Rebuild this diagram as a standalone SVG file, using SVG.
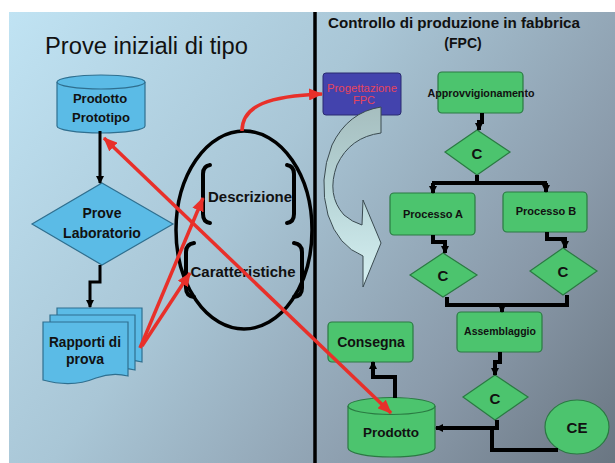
<svg xmlns="http://www.w3.org/2000/svg" width="615" height="463" viewBox="0 0 615 463">
<style>
.bold{font-family:"Liberation Sans",Arial,sans-serif;font-weight:bold;fill:#111;text-anchor:middle}
.blue{fill:#5bbbe6;stroke:#2f6f8f;stroke-width:1.2}
.green{fill:#4cc46e;stroke:#2a7a42;stroke-width:1.2}
.blk{fill:none;stroke:#000;stroke-width:4;stroke-linejoin:miter}
.blk3{fill:none;stroke:#000;stroke-width:3}
.red{fill:none;stroke:#e8302a;stroke-width:3.5}
.brk{fill:none;stroke:#000;stroke-width:4;stroke-linecap:round}
</style>
<defs>
<linearGradient id="bg" x1="9" y1="12" x2="615" y2="462" gradientUnits="userSpaceOnUse">
<stop offset="0" stop-color="#c0e3f3"/>
<stop offset="0.4" stop-color="#a9c6d6"/>
<stop offset="0.75" stop-color="#8a9aaa"/>
<stop offset="1" stop-color="#6a7682"/>
</linearGradient>
<linearGradient id="carr" x1="0" y1="0" x2="0" y2="1">
<stop offset="0" stop-color="#a6bebf"/>
<stop offset="0.5" stop-color="#b8d6d8"/>
<stop offset="1" stop-color="#d6f0f2"/>
</linearGradient>
<marker id="ab" markerWidth="8" markerHeight="8" refX="7" refY="4" orient="auto" markerUnits="userSpaceOnUse">
<path d="M0,0 L8,4 L0,8 Z" fill="#000"/>
</marker>
<marker id="ar" markerWidth="14" markerHeight="12" refX="13" refY="6" orient="auto" markerUnits="userSpaceOnUse">
<path d="M0,0 L14,6 L0,12 Z" fill="#e8302a"/>
</marker>
<marker id="ars" markerWidth="14" markerHeight="12" refX="1" refY="6" orient="auto" markerUnits="userSpaceOnUse">
<path d="M14,0 L0,6 L14,12 Z" fill="#e8302a"/>
</marker>
</defs>
<rect width="615" height="463" fill="#fff"/>
<rect x="9" y="12" width="606" height="451" fill="url(#bg)"/>
<line x1="315" y1="12" x2="315" y2="463" stroke="#000" stroke-width="3.5"/>

<text x="45" y="54" font-family="Liberation Sans,Arial,sans-serif" font-size="23" fill="#111" textLength="203" lengthAdjust="spacingAndGlyphs">Prove iniziali di tipo</text>
<text class="bold" x="454" y="28" font-size="14" textLength="252" lengthAdjust="spacingAndGlyphs">Controllo di produzione in fabbrica</text>
<text class="bold" x="463" y="48" font-size="14">(FPC)</text>

<g id="prototipo">
<path class="blue" d="M57,82 V126 A44,7 0 0 0 145,126 V82"/>
<ellipse class="blue" cx="101" cy="82" rx="44" ry="7"/>
<text class="bold" x="100" y="103" font-size="13">Prodotto</text>
<text class="bold" x="101" y="122" font-size="13">Prototipo</text>
</g>

<g id="prove">
<polygon class="blue" points="102,183 173,224 102,265 32,224"/>
<text class="bold" x="102" y="218" font-size="14">Prove</text>
<text class="bold" x="102" y="238" font-size="14">Laboratorio</text>
</g>

<g id="rapporti">
<path class="blue" d="M57,308 H142 V362 Q128,358 112,364 Q90,372 57,366 Z"/>
<path class="blue" d="M50,315 H135 V370 Q120,366 104,372 Q82,380 50,373 Z"/>
<path class="blue" d="M43,322 H128 V376 Q112,372 96,378 Q72,388 43,380 Z"/>
<text class="bold" x="85" y="347" font-size="14" textLength="72" lengthAdjust="spacingAndGlyphs">Rapporti di</text>
<text class="bold" x="85" y="364" font-size="14">prova</text>
</g>

<g id="ellisse">
<ellipse cx="244" cy="230" rx="68" ry="99" fill="none" stroke="#000" stroke-width="3.5"/>
</g>

<g id="descrizione">
<path class="brk" d="M210,165 Q203,166 203,174 V214 Q203,222 210,223"/>
<path class="brk" d="M287,165 Q294,166 294,174 V214 Q294,222 287,223"/>
<text class="bold" x="250" y="202" font-size="14.5" textLength="84" lengthAdjust="spacingAndGlyphs">Descrizione</text>
</g>

<g id="caratteristiche">
<path class="brk" d="M194,243 Q186,244 186,252 V288 Q186,296 194,297"/>
<path class="brk" d="M294,243 Q302,244 302,252 V288 Q302,296 294,297"/>
<text class="bold" x="243" y="277" font-size="14.5" textLength="105" lengthAdjust="spacingAndGlyphs">Caratteristiche</text>
</g>

<g id="progettazione">
<rect x="323" y="73" width="78" height="42" rx="3" fill="#4343ad" stroke="#2a2a70" stroke-width="1"/>
<text x="362" y="92" font-family="Liberation Sans,Arial,sans-serif" font-size="11" fill="#e8445c" text-anchor="middle" textLength="70" lengthAdjust="spacingAndGlyphs">Progettazione</text>
<text x="364" y="104" font-family="Liberation Sans,Arial,sans-serif" font-size="11" fill="#e8445c" text-anchor="middle">FPC</text>
</g>

<g id="freccia-curva">
<path d="M381,107 V133 Q350,137 337,165 Q326,195 344,215 Q352,222 362,225 L363,200 L381,243 L363,287 L363,256 Q338,246 328,215 Q318,180 332,145 Q348,112 381,107 Z" fill="url(#carr)" stroke="#3a4a50" stroke-width="1"/>
</g>

<g id="approvvigionamento">
<rect class="green" x="438" y="72" width="85" height="41" rx="4"/>
<text class="bold" x="481" y="97" font-size="10.5" textLength="107" lengthAdjust="spacingAndGlyphs">Approvvigionamento</text>
</g>

<g id="c1">
<polygon class="green" points="477,130 510,152 477,175 445,152"/>
<text class="bold" x="477" y="159" font-size="15">C</text>
</g>

<g id="processoA">
<rect class="green" x="390" y="193" width="85" height="42" rx="4"/>
<text class="bold" x="433" y="218" font-size="11">Processo A</text>
</g>

<g id="processoB">
<rect class="green" x="503" y="192" width="84" height="40" rx="4"/>
<text class="bold" x="546" y="215" font-size="11">Processo B</text>
</g>

<g id="c2">
<polygon class="green" points="443,253 477,275 443,297 410,275"/>
<text class="bold" x="443" y="281" font-size="15">C</text>
</g>

<g id="c3">
<polygon class="green" points="563,248 597,271 563,295 530,271"/>
<text class="bold" x="563" y="277" font-size="15">C</text>
</g>

<g id="assemblaggio">
<rect class="green" x="457" y="312" width="85" height="40" rx="4"/>
<text class="bold" x="500" y="335" font-size="10.5">Assemblaggio</text>
</g>

<g id="c4">
<polygon class="green" points="495,375 528,397 495,420 463,397"/>
<text class="bold" x="495" y="404" font-size="15">C</text>
</g>

<g id="consegna">
<rect class="green" x="328" y="322" width="85" height="40" rx="4"/>
<text class="bold" x="371" y="347" font-size="14">Consegna</text>
</g>

<g id="prodotto">
<path class="green" d="M348,406 V448 A43.5,9 0 0 0 435,448 V406"/>
<ellipse class="green" cx="391.5" cy="406" rx="43.5" ry="8.5"/>
<text class="bold" x="391" y="437" font-size="13.5">Prodotto</text>
</g>

<g id="ce">
<ellipse class="green" cx="577" cy="427" rx="32" ry="27"/>
<text class="bold" x="577" y="433" font-size="15">CE</text>
</g>

<g id="connettori">
<path class="blk3" d="M100,131 V183" marker-end="url(#ab)"/>
<path class="blk3" d="M100,265 V282 H90 V307" marker-end="url(#ab)"/>
<path class="blk" d="M482,113 V122 H479 V130" marker-end="url(#ab)"/>
<path class="blk" d="M477,175 V183"/>
<path class="blk" d="M432,183 H547"/>
<path class="blk" d="M433,183 V193" marker-end="url(#ab)"/>
<path class="blk" d="M546,183 V192" marker-end="url(#ab)"/>
<path class="blk" d="M433,235 V242 H445 V253" marker-end="url(#ab)"/>
<path class="blk" d="M547,232 V239 H565 V248" marker-end="url(#ab)"/>
<path class="blk" d="M447,297 V305 H567 V295"/>
<path class="blk" d="M502,305 V312" marker-end="url(#ab)"/>
<path class="blk" d="M500,352 V362 H495 V375" marker-end="url(#ab)"/>
<path class="blk" d="M497,420 V428 H436" marker-end="url(#ab)"/>
<path class="blk" d="M558,450 H492 V428"/>
<path class="blk" d="M395,398 V377 H373 V362" marker-end="url(#ab)"/>
<path class="red" d="M140,348 L203,198" marker-end="url(#ar)"/>
<path class="red" d="M142,346 L190,273" marker-end="url(#ar)"/>
<path class="red" d="M104,138 L391,413" marker-start="url(#ars)" marker-end="url(#ar)"/>
<path class="red" d="M242,131 C242,105 270,96 322,94" marker-end="url(#ar)"/>
</g>
</svg>
